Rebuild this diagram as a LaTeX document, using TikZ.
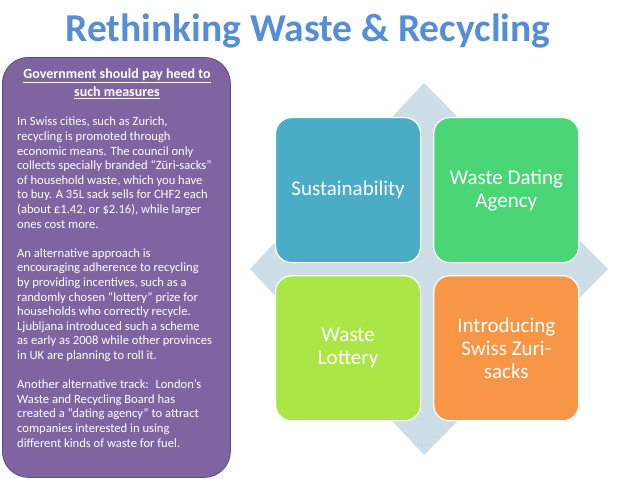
\documentclass[tikz,border=0pt]{standalone}
\usepackage{fontspec}
\setmainfont{Carlito}
\usepackage{tikz}
\usetikzlibrary{positioning}
\definecolor{titleblue}{RGB}{85,142,213}
\definecolor{panelpurple}{RGB}{128,100,162}
\definecolor{paneledge}{RGB}{96,74,124}
\definecolor{diamondbg}{RGB}{205,222,230}
\definecolor{sustblue}{RGB}{75,172,198}
\definecolor{datinggreen}{RGB}{74,214,118}
\definecolor{lotterylime}{RGB}{172,230,70}
\definecolor{zuriorange}{RGB}{247,150,70}

\begin{document}
\begin{tikzpicture}[x=1pt,y=-1pt,
  tile/.style={rectangle, rounded corners=16pt, minimum width=145pt, minimum height=145pt,
    draw=white, line width=1.2pt, text=white, align=center, inner sep=4pt,
    font=\fontsize{21}{23}\selectfont}
  ]
  \useasboundingbox (0,0) rectangle (638,479);
  \node (title) [text=titleblue, font=\fontsize{39.5}{44}\selectfont\bfseries] at (308,31)
        {Rethinking Waste \& Recycling};
  % left panel
  \node (panel) [rectangle, rounded corners=26pt, fill=panelpurple, draw=paneledge, line width=0.8pt,
         minimum width=228pt, minimum height=420pt, anchor=north west] at (2,57) {};
  \node (head) [text=white, align=center, font=\fontsize{14}{18}\selectfont\bfseries] at (117,84)
        {\underline{Government should pay heed to}\\ \underline{such measures}};
  \node (body) [text=white, align=left, anchor=north west, inner sep=0pt,
         font=\fontsize{12.6}{14.6}\selectfont] at (17,117)
        { In Swiss cities, such as Zurich,\\
         recycling is promoted through\\
         economic means. The council only\\
         collects specially branded “Züri-sacks”\\
         of household waste, which you have\\
         to buy. A 35L sack sells for CHF2 each\\
         (about £1.42, or \$2.16), while larger\\
         ones cost more.\\[14.6pt]
         An alternative approach is\\
         encouraging adherence to recycling\\
         by providing incentives, such as a\\
         randomly chosen “lottery” prize for\\
         households who correctly recycle.\\
         Ljubljana introduced such a scheme\\
         as early as 2008 while other provinces\\
         in UK are planning to roll it.\\[14.6pt]
         Another alternative track:~ London’s\\
         Waste and Recycling Board has\\
         created a “dating agency” to attract\\
         companies interested in using\\
         different kinds of waste for fuel.};
  % matrix
  \fill[diamondbg] (424,83) -- (608,269) -- (424,455) -- (250,269) -- cycle;
  \node (sust) [tile, fill=sustblue, anchor=north west] at (275,117) {Sustainability};
  \node (dating) [tile, fill=datinggreen, right=12pt of sust] {Waste Dating\\ Agency};
  \node (lottery) [tile, fill=lotterylime, below=12pt of sust] {Waste\\ Lottery};
  \node (zuri) [tile, fill=zuriorange, right=12pt of lottery] {Introducing\\ Swiss Zuri-\\ sacks};
\end{tikzpicture}
\end{document}
